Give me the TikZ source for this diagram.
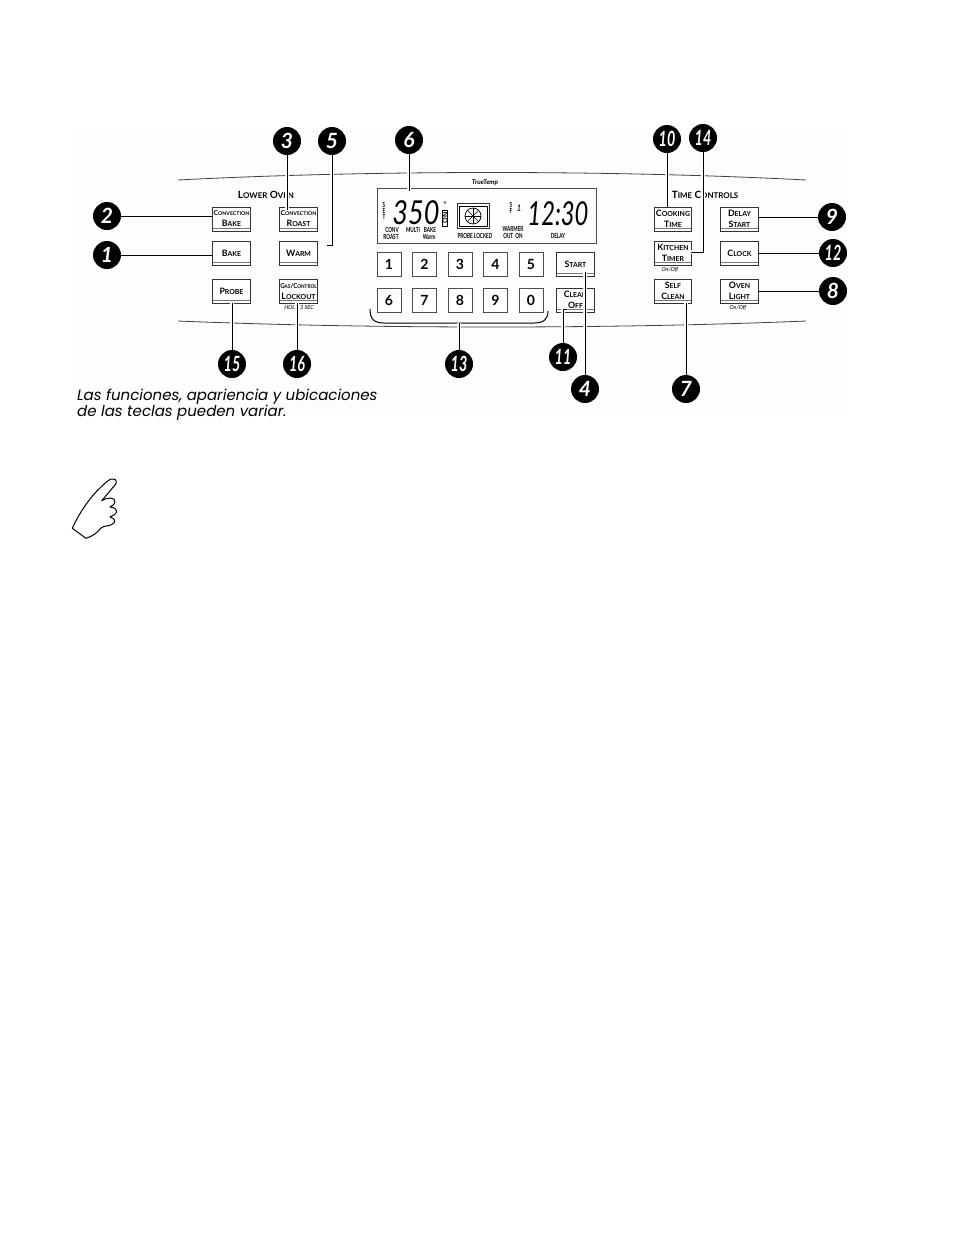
\documentclass[tikz,border=0pt]{standalone}
\usepackage{fontspec}
\usepackage{tikz}
\usepackage{xcolor}
\setmainfont{Lato}
\newfontfamily\capfont{Poppins}
\definecolor{panelbg}{RGB}{253,253,253}
\definecolor{keyrule}{RGB}{120,120,120}
\newcommand{\sck}[2]{{\fontsize{8.8}{8.8}\selectfont #1}{\fontsize{6.9}{8.8}\selectfont #2}}
\newcommand{\sckt}[2]{{\fontsize{6.8}{7}\selectfont #1}{\fontsize{5.2}{7}\selectfont #2}}
\newcommand{\sckh}[2]{{\fontsize{10}{10}\selectfont #1}{\fontsize{7.9}{10}\selectfont #2}}
\newcommand{\twodig}[1]{\scalebox{.68}[1]{#1}}
\newcommand{\dspt}[1]{\scalebox{.66}[1]{#1}}
\tikzset{
  keybox/.style={draw=black!80,line width=0.7pt,fill=white,minimum width=37.5pt,minimum height=24pt,inner sep=0pt,
    align=center,font=\bfseries,
    path picture={\draw[keyrule,line width=1pt] ([yshift=3pt]path picture bounding box.south west)--([yshift=3pt]path picture bounding box.south east);}},
  numkey/.style={draw=black!70,line width=0.7pt,fill=white,minimum size=24pt,inner sep=0pt,font=\fontsize{14}{14}\bfseries\selectfont},
  callout/.style={circle,fill=black,text=white,minimum size=28pt,inner sep=0pt,font=\fontsize{21}{21}\bfseries\itshape\selectfont},
  leader/.style={line width=1pt,preaction={draw=panelbg,line width=3.5pt}},
  band/.style={line width=0.8pt,black!75},
  disptxt/.style={inner sep=0pt,font=\fontsize{7}{7}\bfseries\selectfont},
  smalltxt/.style={inner sep=0pt,font=\fontsize{5.5}{5.5}\itshape\selectfont},
  headtxt/.style={inner sep=0pt,font=\bfseries},
  segtxt/.style={inner sep=0pt,font=\fontsize{33}{33}\itshape\selectfont}
}
\begin{document}
\begin{tikzpicture}[x=1pt,y=-1pt]
  \useasboundingbox (0,0) rectangle (954,1235);
  \fill[panelbg] (78,128) rectangle (845,416);

  \draw[band] (178,180) .. controls (370,170) and (614,170) .. (806,180);
  \draw[band] (178,321) .. controls (370,329) and (614,329) .. (806,321);

  \node[headtxt] (lowerlbl) at (266,195) {\sckh{L}{OWER} \sckh{O}{VEN}};
  \node[headtxt] (timelbl) at (705,195) {\sckh{T}{IME} \sckh{C}{ONTROLS}};

  \node[keybox] (kconvbake) at (231.5,219) {\sckt{C}{ONVECTION}\\[-1pt]\sck{B}{AKE}};
  \node[keybox] (kbake) at (231.5,253) {\sck{B}{AKE}};
  \node[keybox] (kprobe) at (231.5,291) {\sck{P}{ROBE}};
  \node[keybox] (kroast) at (298.5,219) {\sckt{C}{ONVECTION}\\[-1pt]\sck{R}{OAST}};
  \node[keybox] (kwarm) at (298.5,253) {\sck{W}{ARM}};
  \node[keybox] (klock) at (298.5,291) {\scalebox{.9}[1]{\sckt{G}{AS}\sckt{/}{}\sckt{C}{ONTROL}}\\[-1pt]\sck{L}{OCKOUT}};
  \node[keybox] (kcook) at (673,219) {\sck{C}{OOKING}\\[-1pt]\sck{T}{IME}};
  \node[keybox] (ktimer) at (673,253) {\sck{K}{ITCHEN}\\[-1pt]\sck{T}{IMER}};
  \node[keybox] (kself) at (673,291) {\sck{S}{ELF}\\[-1pt]\sck{C}{LEAN}};
  \node[keybox] (kdelay) at (739.5,219) {\sck{D}{ELAY}\\[-1pt]\sck{S}{TART}};
  \node[keybox] (kclock) at (739.5,253) {\sck{C}{LOCK}};
  \node[keybox] (klight) at (739.5,291) {\sck{O}{VEN}\\[-1pt]\sck{L}{IGHT}};
  \node[keybox] (kstart) at (575.5,264) {\sck{S}{TART}};
  \node[keybox] (kclean) at (575.5,300) {\sck{C}{LEAN}\\[-1pt]\sck{O}{FF}};

  \node[numkey] (n1) at (389,264) {1};
  \node[numkey] (n2) at (424.5,264) {2};
  \node[numkey] (n3) at (460,264) {3};
  \node[numkey] (n4) at (495.5,264) {4};
  \node[numkey] (n5) at (531,264) {5};
  \node[numkey] (n6) at (389,300) {6};
  \node[numkey] (n7) at (424.5,300) {7};
  \node[numkey] (n8) at (460,300) {8};
  \node[numkey] (n9) at (495.5,300) {9};
  \node[numkey] (n0) at (531,300) {0};

  \node[smalltxt] (onoffa) at (670,269.5) {On/Off};
  \node[smalltxt] (onoffb) at (738,308) {On/Off};
  \node[smalltxt] (holdlbl) at (299,308) {HOLD 3 SEC};

  \draw[line width=0.8pt,black!70] (377,188) rectangle (596,243);
  \node[inner sep=0pt,font=\fontsize{6.5}{6.5}\itshape\bfseries\selectfont] (truelbl) at (485,183) {TrueTemp};
  \node[disptxt,align=center] (setlbl) at (384,211) {\dspt{S}\\[-1pt]\dspt{E}\\[-1pt]\dspt{T}};
  \node[segtxt,xscale=.82] (temp) at (416,213) {350};
  \node[inner sep=0pt,font=\fontsize{8}{8}\selectfont] (deglbl) at (445,205) {°};
  \draw[line width=0.5pt] (442.5,210) rectangle (447.5,226);
  \node[disptxt,rotate=90] (onlbl) at (445,218) {ON};
  \node[disptxt] (convlbl) at (392,230) {\dspt{CONV}};
  \node[disptxt] (roastlbl) at (391,237) {\dspt{ROAST}};
  \node[disptxt] (multilbl) at (413,230) {\dspt{MULTI}};
  \node[disptxt] (bakelbl) at (430,230) {\dspt{BAKE}};
  \node[disptxt] (warmlbl) at (429,237) {\dspt{Warm}};
  \node[disptxt] (probelbl) at (475,236) {\dspt{PROBE LOCKED}};
  \node[disptxt] (warmerlbl) at (513,229) {\dspt{WARMER}};
  \node[disptxt] (outlbl) at (513,236) {\dspt{OUT ~ON}};
  \node[disptxt] (delaylbl) at (558,236) {\dspt{DELAY}};
  \node[disptxt,align=center] (sflbl) at (511,208) {\dspt{S}\\[-1pt]\dspt{F}};
  \node[inner sep=0pt,font=\fontsize{9}{9}\itshape\selectfont] (onelbl) at (519,208) {1};
  \node[segtxt,xscale=.72] (clock) at (558,214) {12:30};

  \draw[line width=0.9pt,black!80] (457,203) rectangle (489,228);
  \draw[line width=0.5pt] (459,206) rectangle (487,226);
  \draw[line width=0.7pt] (473,216) circle (8);
  \draw[line width=0.6pt] (465,216)--(481,216);
  \draw[line width=0.6pt] (473,208)--(473,224);
  \draw[line width=0.6pt] (467.3,210.3)--(478.7,221.7);
  \draw[line width=0.6pt] (467.3,221.7)--(478.7,210.3);

  \node[callout] (c1) at (107,255) {1};
  \node[callout] (c2) at (107,216) {2};
  \node[callout] (c3) at (287,141) {3};
  \node[callout] (c4) at (585,389) {4};
  \node[callout] (c5) at (332,141) {5};
  \node[callout] (c6) at (409,140) {6};
  \node[callout] (c7) at (686,389) {7};
  \node[callout] (c8) at (833,291) {8};
  \node[callout] (c9) at (832,217) {9};
  \node[callout] (c10) at (667,139) {\twodig{10}};
  \node[callout] (c11) at (563,357) {\twodig{11}};
  \node[callout] (c12) at (833,253) {\twodig{12}};
  \node[callout] (c13) at (459,364) {\twodig{13}};
  \node[callout] (c14) at (703,138) {\twodig{14}};
  \node[callout] (c15) at (232,364) {\twodig{15}};
  \node[callout] (c16) at (297,364) {\twodig{16}};

  \coordinate (e3) at (287,210);
  \coordinate (e4) at (585,272);
  \coordinate (e5) at (327,245);
  \coordinate (e6) at (409,191);
  \coordinate (e11) at (563,309);
  \coordinate (e14) at (691,252);
  \coordinate (e13) at (459,323);

  \draw[leader] (c1) -- (kbake.west |- c1);
  \draw[leader] (c2) -- (kconvbake.west |- c2);
  \draw[leader] (c3) -- (e3);
  \draw[leader] (c4) -- (e4);
  \draw[leader] (c5) |- (e5);
  \draw[leader] (c6) -- (e6);
  \draw[leader] (c7) -- (kself.south -| c7);
  \draw[leader] (c8) -- (klight.east |- c8);
  \draw[leader] (c9) -- (kdelay.east |- c9);
  \draw[leader] (c10) -- (kcook.north -| c10);
  \draw[leader] (c11) -- (e11) -- ++(4,0);
  \draw[leader] (c12) -- (kclock.east |- c12);
  \draw[leader] (c14) |- (e14);
  \draw[leader] (c15) -- (kprobe.south -| c15);
  \draw[leader] (c16) -- (klock.south -| c16);

  \draw[line width=1pt] (370,309) .. controls (370,319) and (374,323) .. (384,323) -- (534,323) .. controls (544,323) and (548,319) .. (548,311);
  \draw[leader] (c13) -- (e13);

  \node[anchor=north west,inner sep=0pt,align=left,font=\capfont\fontsize{15}{14}\itshape\selectfont] (caption) at (77,388.5) {Las funciones, apariencia y ubicaciones\\de las teclas pueden variar.};

  \draw[line width=1pt,line join=round,fill=white] (72.3,528.3) .. controls (78,515) and (90,497) .. (100,488)
    .. controls (105,483) and (110,478) .. (113,479) .. controls (117,479) and (117,483) .. (115,485)
    -- (101.7,500.7) .. controls (107,497) and (116,497) .. (115,502) .. controls (114,506) and (110,506) .. (110,507)
    .. controls (115,507) and (118,511) .. (116,513) .. controls (114,516) and (110,516) .. (110,517)
    .. controls (114,518) and (116,521) .. (114,523) .. controls (110,527) and (104,525) .. (101,528)
    .. controls (97,533) and (93,536) .. (86,538.3) -- cycle;
\end{tikzpicture}
\end{document}
